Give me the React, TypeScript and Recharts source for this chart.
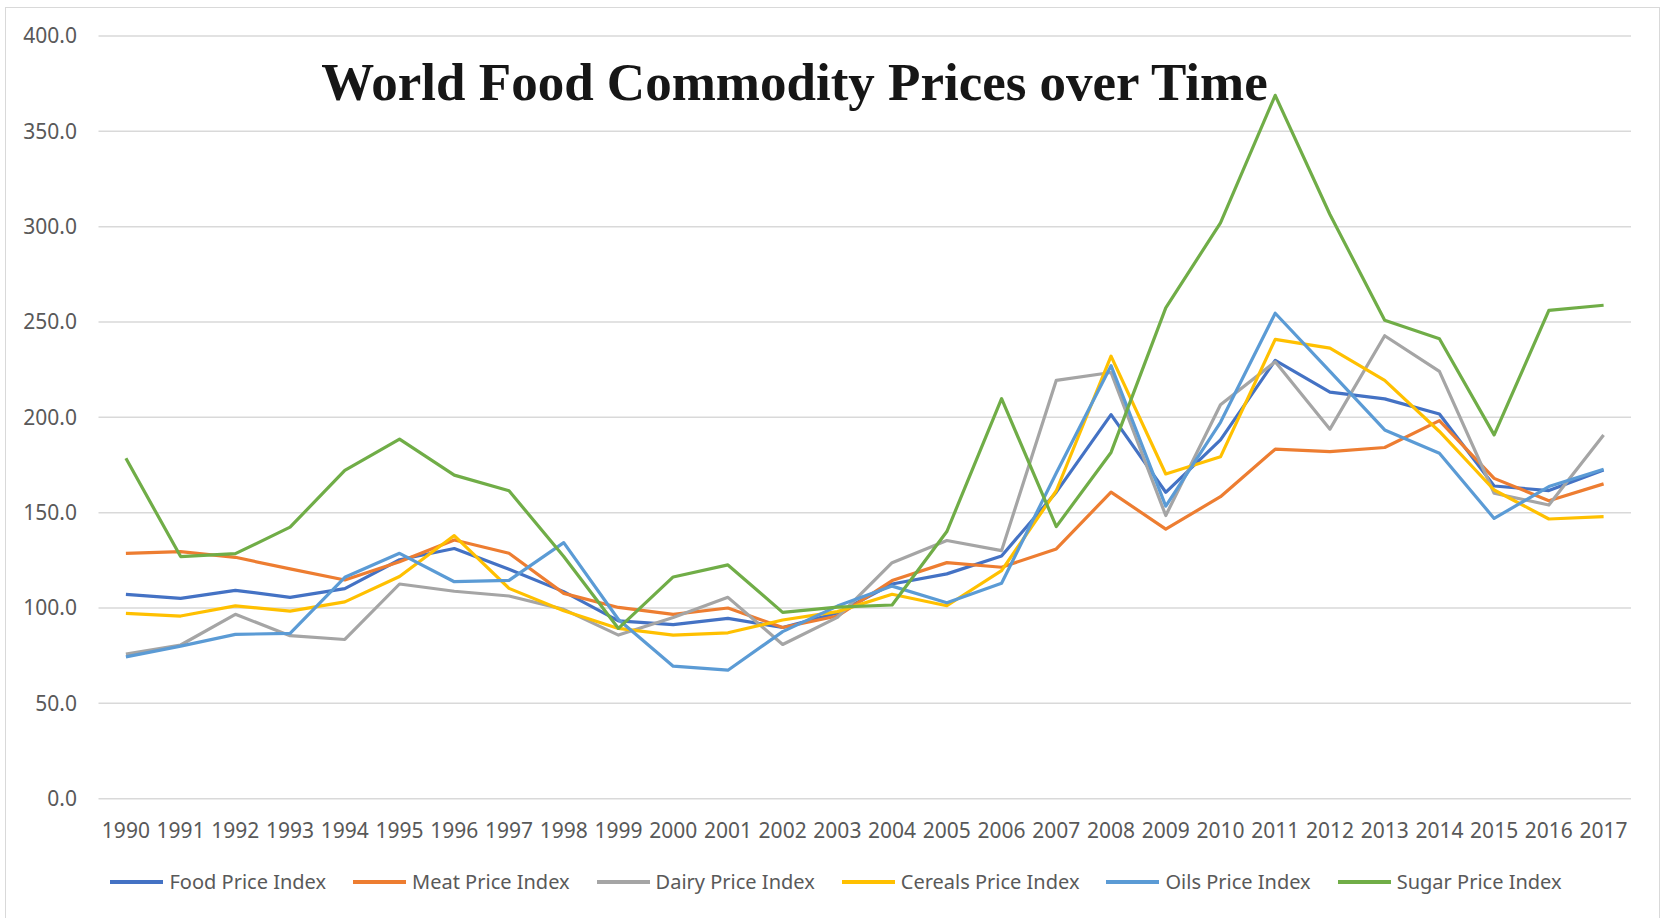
import React from 'react';
import { LineChart, Line, XAxis, YAxis, CartesianGrid } from 'recharts';

const years = [
  '1990', '1991', '1992', '1993', '1994', '1995', '1996', '1997', '1998', '1999',
  '2000', '2001', '2002', '2003', '2004', '2005', '2006', '2007', '2008', '2009',
  '2010', '2011', '2012', '2013', '2014', '2015', '2016', '2017',
];

const food = [107.2, 105.1, 109.3, 105.6, 110.2, 125.3, 131.2, 120.3, 108.6, 93.3, 91.3, 94.6, 89.8, 97.4, 112.6, 117.9, 127.3, 160.8, 201.4, 160.7, 188.2, 229.9, 213.2, 209.7, 201.8, 164.0, 161.6, 172.4];
const meat = [128.7, 129.6, 126.6, 120.5, 114.7, 124.3, 135.7, 128.7, 107.7, 100.3, 96.7, 100.0, 89.8, 95.8, 114.4, 123.8, 121.4, 131.0, 160.8, 141.4, 158.4, 183.3, 182.0, 184.2, 198.3, 168.0, 156.3, 165.1];
const dairy = [75.8, 80.6, 96.7, 85.5, 83.5, 112.6, 108.8, 106.3, 99.3, 85.8, 95.0, 105.6, 80.9, 95.1, 123.8, 135.4, 130.1, 219.4, 223.5, 148.5, 206.6, 229.1, 193.8, 242.8, 224.1, 160.2, 154.0, 190.8];
const cereals = [97.2, 95.8, 101.1, 98.4, 103.2, 116.5, 138.0, 110.3, 98.6, 89.3, 85.8, 87.0, 93.7, 98.1, 107.2, 101.2, 119.6, 161.5, 232.1, 170.3, 179.3, 240.9, 236.3, 219.4, 192.6, 161.9, 146.7, 147.9];
const oils = [74.4, 80.0, 86.2, 86.7, 116.1, 128.7, 113.8, 114.5, 134.3, 94.0, 69.5, 67.4, 87.6, 101.0, 111.5, 102.8, 113.0, 170.8, 227.1, 153.4, 197.4, 254.6, 224.1, 193.4, 181.2, 147.0, 163.7, 172.8];
const sugar = [178.5, 127.0, 128.5, 142.4, 172.2, 188.6, 169.7, 161.5, 127.0, 89.3, 116.3, 122.6, 97.7, 100.5, 101.6, 140.1, 209.8, 142.7, 181.6, 257.4, 302.0, 368.9, 306.4, 250.9, 241.2, 190.8, 256.1, 258.8];

const yTicks = [0, 50, 100, 150, 200, 250, 300, 350, 400];

const series = [
  { key: 'food', name: 'Food Price Index', color: '#4472C4', values: food },
  { key: 'meat', name: 'Meat Price Index', color: '#ED7D31', values: meat },
  { key: 'dairy', name: 'Dairy Price Index', color: '#A5A5A5', values: dairy },
  { key: 'cereals', name: 'Cereals Price Index', color: '#FFC000', values: cereals },
  { key: 'oils', name: 'Oils Price Index', color: '#5B9BD5', values: oils },
  { key: 'sugar', name: 'Sugar Price Index', color: '#70AD47', values: sugar },
];

const data = years.map((year, i) => {
  const row: Record<string, string | number> = { year };
  series.forEach((s) => {
    row[s.key] = s.values[i];
  });
  return row;
});

const font = "'Noto Sans', 'Open Sans', sans-serif";
const textColor = '#595959';

export default function App() {
  return (
    <div
      style={{
        position: 'absolute',
        left: 0,
        top: 0,
        width: 1661,
        height: 918,
        background: '#fff',
        fontFamily: font,
        overflow: 'hidden',
      }}
    >
      {/* chart frame */}
      <div
        style={{
          position: 'absolute',
          left: 5,
          top: 7,
          width: 1653,
          height: 930,
          border: '1px solid #d9d9d9',
        }}
      />
      <LineChart
        width={1661}
        height={918}
        data={data}
        margin={{ top: 36, right: 30, bottom: 79.3, left: 0 }}
        style={{ position: 'absolute', left: 0, top: 0 }}
      >
        <CartesianGrid vertical={false} stroke="#d9d9d9" strokeWidth={1.5} />
        <XAxis
          dataKey="year"
          height={40}
          padding={{ left: 27.4, right: 27.4 }}
          axisLine={false}
          tickLine={false}
          tickSize={6}
          tickMargin={18}
          interval={0}
          tick={{ fontSize: 21, fill: textColor, fontFamily: font }}
        />
        <YAxis
          width={98.5}
          domain={[0, 400]}
          ticks={yTicks}
          axisLine={false}
          tickLine={false}
          tickSize={6}
          tickMargin={15.5}
          tickFormatter={(v: number) => v.toFixed(1)}
          tick={{ fontSize: 21, fill: textColor, fontFamily: font }}
        />
        {series.map((s) => (
          <Line
            key={s.key}
            type="linear"
            dataKey={s.key}
            name={s.name}
            stroke={s.color}
            strokeWidth={3.2}
            dot={false}
            activeDot={false}
            strokeLinejoin="round"
            isAnimationActive={false}
          />
        ))}
      </LineChart>
      <svg
        width={1661}
        height={918}
        style={{ position: 'absolute', left: 0, top: 0, pointerEvents: 'none' }}
      >
        <text
          x={794.5}
          y={100}
          textAnchor="middle"
          fontFamily="'Liberation Serif', 'Times New Roman', serif"
          fontWeight="bold"
          fontSize={53}
          fill="#161616"
        >
          World Food Commodity Prices over Time
        </text>
      </svg>
      {/* legend */}
      <div
        style={{
          position: 'absolute',
          left: 9.5,
          top: 868,
          width: 1653,
          height: 28,
          display: 'flex',
          justifyContent: 'center',
          alignItems: 'center',
        }}
      >
        {series.map((s, i) => (
          <div
            key={s.key}
            style={{
              display: 'flex',
              alignItems: 'center',
              marginRight: i === series.length - 1 ? 0 : 27,
            }}
          >
            <div style={{ width: 53, height: 3.5, background: s.color, marginRight: 6 }} />
            <span style={{ fontSize: 20, lineHeight: '28px', color: textColor }}>{s.name}</span>
          </div>
        ))}
      </div>
    </div>
  );
}
